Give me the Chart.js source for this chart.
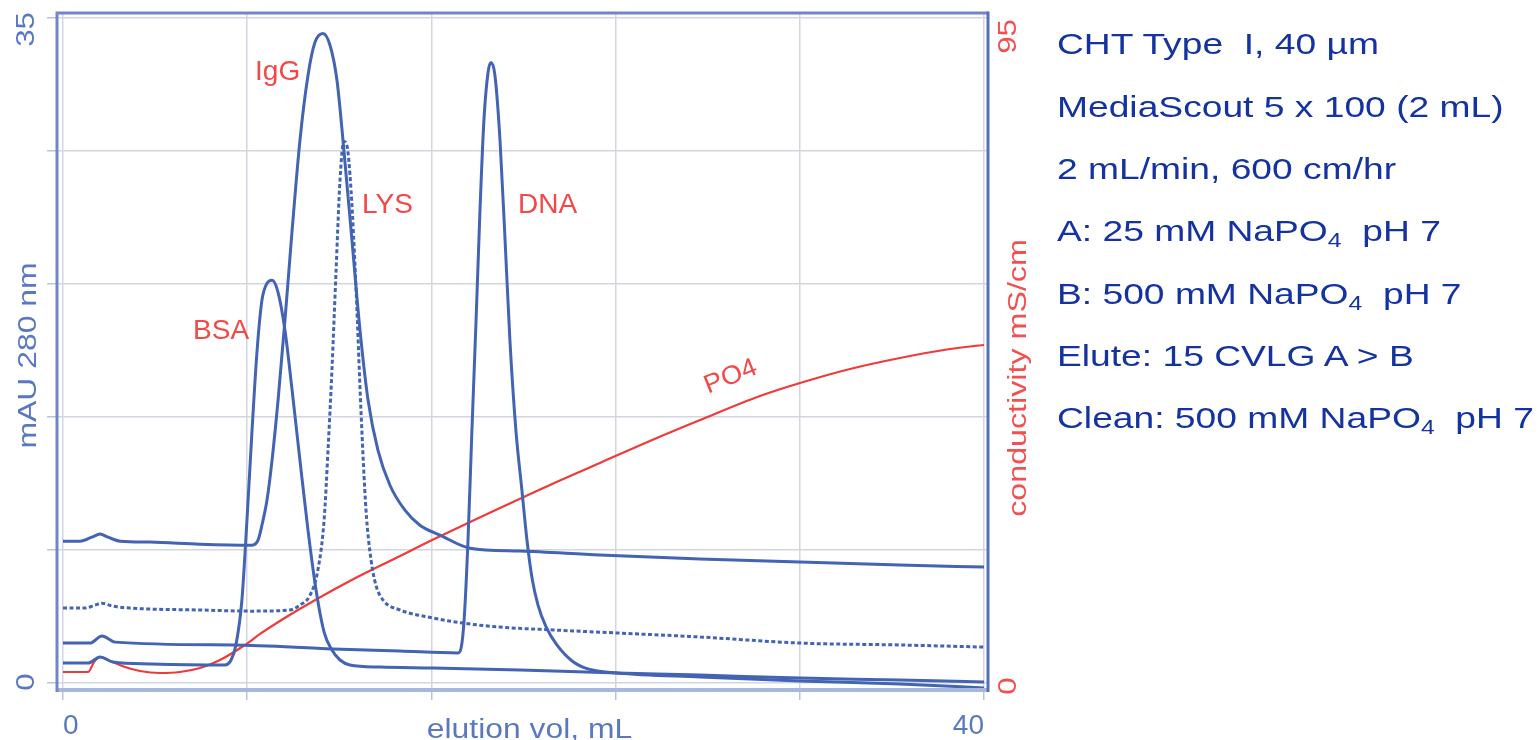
<!DOCTYPE html>
<html>
<head>
<meta charset="utf-8">
<script src="https://cdn.jsdelivr.net/npm/chart.js@4.4.1/dist/chart.umd.min.js"></script>
<style>
  html, body { margin: 0; padding: 0; background: #fff; overflow: hidden; }
  #wrap { position: relative; width: 1539px; height: 740px; }
  #chartBox { position: absolute; left: 0; top: 0; width: 1539px; height: 740px; }
  #notes {
    position: absolute; left: 1057px; top: 13.4px;
    font-family: "Liberation Sans", Arial, sans-serif; font-size: 30px;
    line-height: 62.33px; color: #1433a0; white-space: pre;
    transform: scaleX(1.24); transform-origin: left top;
  }
  #notes sub { font-size: 20px; vertical-align: -6px; line-height: 0; }
</style>
</head>
<body>
<div id="wrap">
  <div id="chartBox"><canvas id="c"></canvas></div>
  <div id="notes"><div>CHT Type  I, 40 µm</div><div>MediaScout 5 x 100 (2 mL)</div><div>2 mL/min, 600 cm/hr</div><div>A: 25 mM NaPO<sub>4</sub>  pH 7</div><div>B: 500 mM NaPO<sub>4</sub>  pH 7</div><div>Elute: 15 CVLG A &gt; B</div><div>Clean: 500 mM NaPO<sub>4</sub>  pH 7</div></div>
</div>
<script>
// ---------- data (elution volume mL, absorbance mAU 280 nm) ----------
const igX = [0, 0.74, 1.26, 1.61, 1.95, 2.48, 3.78, 5.95, 8.21, 8.47, 8.64, 8.86, 9.08, 9.34, 9.64, 9.95, 10.29, 10.64, 10.94, 11.29, 11.60, 11.90, 12.20, 12.55, 12.90, 13.25, 13.68, 14.20, 14.85, 15.50, 16.37, 17.68, 19.85, 23.32, 27.67, 32.01, 36.35, 40];
const igY = [7.46, 7.46, 7.67, 7.83, 7.67, 7.46, 7.41, 7.30, 7.25, 7.51, 8.30, 9.62, 11.72, 14.87, 19.08, 23.80, 28.53, 31.95, 33.68, 34.16, 33.53, 31.69, 28.01, 23.28, 18.55, 14.87, 12.24, 10.40, 9.09, 8.30, 7.78, 7.09, 6.94, 6.73, 6.52, 6.36, 6.20, 6.10];

const lysX = [0, 0.96, 1.39, 1.69, 2.13, 2.91, 5.95, 8.12, 9.86, 10.29, 10.73, 11.07, 11.34, 11.51, 11.68, 11.86, 12.03, 12.20, 12.33, 12.51, 12.73, 12.94, 13.16, 13.38, 13.59, 13.90, 14.64, 16.07, 17.37, 18.98, 21.28, 24.06, 27.67, 32.01, 36.35, 40];
const lysY = [3.94, 3.94, 4.10, 4.20, 4.05, 3.94, 3.84, 3.78, 3.84, 4.10, 4.62, 5.94, 8.57, 12.24, 16.45, 21.70, 26.43, 28.48, 28.27, 25.91, 20.65, 14.35, 9.09, 6.46, 5.15, 4.36, 3.84, 3.42, 3.15, 2.94, 2.79, 2.63, 2.42, 2.10, 2.00, 1.89];

const bsaX = [0, 1.09, 1.61, 2.17, 3.78, 6.51, 7.04, 7.30, 7.51, 7.77, 7.99, 8.21, 8.43, 8.64, 8.86, 9.08, 9.34, 9.64, 9.95, 10.29, 10.64, 10.99, 11.34, 11.68, 12.03, 12.46, 13.77, 16.07, 19.85, 24.06, 27.67, 32.01, 36.35, 40];
const bsaY = [1.05, 1.05, 1.37, 1.10, 1.00, 0.95, 0.95, 1.21, 2.00, 4.36, 8.57, 13.29, 17.50, 20.13, 21.02, 21.18, 20.55, 18.55, 15.40, 11.72, 8.04, 4.89, 2.68, 1.73, 1.21, 0.95, 0.84, 0.79, 0.68, 0.53, 0.42, 0.26, 0.16, 0.05];

const dnaX = [0, 1.17, 1.69, 2.26, 7.38, 11.73, 14.64, 17.16, 17.29, 17.42, 17.59, 17.76, 17.94, 18.11, 18.28, 18.46, 18.59, 18.76, 18.98, 19.20, 19.41, 19.67, 19.93, 20.15, 20.37, 20.63, 20.98, 21.45, 22.11, 22.80, 24.06, 27.67, 32.01, 36.35, 40];
const dnaY = [2.10, 2.10, 2.47, 2.15, 2.00, 1.79, 1.68, 1.58, 1.84, 3.31, 7.51, 13.29, 19.08, 24.86, 29.58, 32.11, 32.63, 31.95, 28.53, 23.28, 18.02, 13.29, 10.15, 7.52, 5.52, 4.10, 2.95, 2.00, 1.16, 0.74, 0.53, 0.32, 0.11, -0.05, -0.26];

// conductivity, mS/cm
const po4X = [0, 1.09, 1.35, 1.61, 2.04, 2.69, 3.34, 4.21, 5.08, 5.95, 6.82, 7.90, 8.56, 9.42, 10.73, 12.46, 14.64, 16.03, 17.68, 18.98, 21.15, 23.32, 25.49, 27.67, 30.27, 32.01, 34.18, 36.35, 38.52, 40];
const po4Y = [1.57, 1.57, 3.00, 3.71, 3.14, 2.28, 1.71, 1.43, 1.57, 2.14, 3.28, 5.42, 7.00, 8.85, 11.42, 14.56, 18.13, 20.41, 22.98, 24.98, 28.27, 31.41, 34.55, 37.54, 40.97, 42.83, 44.83, 46.40, 47.68, 48.25];

// axis ticks
const xTicks = [0, 8, 16, 24, 32, 40];
const xTickLabels = ['0', '', '', '', '', '40'];
const yTicks = [0, 7, 14, 21, 28, 35];
const yTickLabels = ['0', '', '', '', '', '35'];
const y1TickValues = [0, 95];
const y1TickLabels = ['0', '95'];

// peak labels (data coordinates)
const peakNames = ['BSA', 'IgG', 'LYS', 'DNA'];
const peakLabelX = [5.65, 8.34, 12.99, 19.76];
const peakLabelY = [18.08, 31.69, 24.70, 24.70];
const po4Label = 'PO4';
const po4LabelX = 29.0;
const po4LabelY = 43.7;

// ---------- styling ----------
const BLUE = '#4363b3';
const RED = '#f03a3a';
const LABEL_RED = '#f24848';
const AXIS_BLUE = '#5a78c2';
const GRID = '#d3d6e0';
const FONT = '"Liberation Sans", Arial, sans-serif';

const pts = (xs, ys) => xs.map((x, i) => ({ x: x, y: ys[i] }));

function lineDs(label, xs, ys, color, width, dash, axis) {
  return {
    label: label, data: pts(xs, ys), borderColor: color, borderWidth: width,
    borderDash: dash || [], pointRadius: 0, fill: false,
    cubicInterpolationMode: 'monotone', yAxisID: axis || 'y'
  };
}

const textPlugin = {
  id: 'textPlugin',
  afterDraw(chart) {
    const { ctx, chartArea: ca, scales } = chart;
    const xs = scales.x, ys = scales.y, y1 = scales.y1;
    ctx.save();
    // frame
    ctx.lineCap = 'butt';
    ctx.strokeStyle = '#a9b7dd'; ctx.lineWidth = 4;
    ctx.beginPath(); ctx.moveTo(ca.left, ca.bottom); ctx.lineTo(ca.right, ca.bottom); ctx.stroke();
    ctx.strokeStyle = '#6f87c7'; ctx.lineWidth = 3;
    ctx.beginPath(); ctx.moveTo(ca.left, ca.bottom + 2); ctx.lineTo(ca.left, ca.top); ctx.lineTo(ca.right, ca.top); ctx.stroke();
    ctx.strokeStyle = '#5470ba'; ctx.lineWidth = 3;
    ctx.beginPath(); ctx.moveTo(ca.right, ca.top - 1.5); ctx.lineTo(ca.right, ca.bottom + 2); ctx.stroke();

    function rtext(str, x, y, size, color, angle, sx) {
      ctx.save();
      ctx.translate(x, y); ctx.rotate(angle); ctx.scale(sx, 1);
      ctx.font = size + 'px ' + FONT; ctx.fillStyle = color;
      ctx.textAlign = 'center'; ctx.textBaseline = 'middle';
      ctx.fillText(str, 0, 0);
      ctx.restore();
    }
    const up = -Math.PI / 2;
    // left tick labels
    yTicks.forEach((v, i) => {
      if (!yTickLabels[i]) return;
      const off = v === 35 ? 12 : -1;
      rtext(yTickLabels[i], ca.left - 30, ys.getPixelForValue(v) + off, 26, AXIS_BLUE, up, 1.2);
    });
    // right tick labels
    y1TickValues.forEach((v, i) => {
      const off = v === 95 ? 19 : 3;
      rtext(y1TickLabels[i], ca.right + 21, y1.getPixelForValue(v) + off, 26, '#f25050', up, 1.2);
    });
    // axis titles
    rtext('mAU 280 nm', ca.left - 28, (ca.top + ca.bottom) / 2 + 4, 26, AXIS_BLUE, up, 1.226);
    rtext('conductivity mS/cm', ca.right + 31, 378, 26, '#f25050', up, 1.24);
    ctx.save();
    ctx.translate((ca.left + ca.right) / 2 + 7, 738); ctx.scale(1.18, 1);
    ctx.font = '27px ' + FONT; ctx.fillStyle = AXIS_BLUE;
    ctx.textAlign = 'center'; ctx.textBaseline = 'alphabetic';
    ctx.fillText('elution vol, mL', 0, 0);
    ctx.restore();
    // peak labels
    ctx.font = '28px ' + FONT; ctx.fillStyle = LABEL_RED;
    ctx.textAlign = 'left'; ctx.textBaseline = 'alphabetic';
    peakNames.forEach((n, i) => {
      ctx.fillText(n, xs.getPixelForValue(peakLabelX[i]), ys.getPixelForValue(peakLabelY[i]));
    });
    rtext(po4Label, xs.getPixelForValue(po4LabelX), y1.getPixelForValue(po4LabelY), 26, LABEL_RED, -22 * Math.PI / 180, 1.05);
    ctx.restore();
  }
};

new Chart(document.getElementById('c'), {
  type: 'line',
  data: {
    datasets: [
      lineDs('IgG', igX, igY, BLUE, 3),
      lineDs('LYS', lysX, lysY, BLUE, 3, [4, 2.5]),
      lineDs('BSA', bsaX, bsaY, BLUE, 3),
      lineDs('DNA', dnaX, dnaY, BLUE, 3),
      lineDs('PO4', po4X, po4Y, RED, 2.2, null, 'y1')
    ]
  },
  options: {
    responsive: true,
    maintainAspectRatio: false,
    animation: false,
    layout: { padding: { top: 13, left: 0, right: 0, bottom: 0 } },
    plugins: { legend: { display: false }, tooltip: { enabled: false }, title: { display: false } },
    scales: {
      x: {
        type: 'linear', min: -0.2606, max: 40.1737,
        afterBuildTicks: (s) => { s.ticks = xTicks.map(v => ({ value: v })); },
        afterFit: (s) => { s.height = 50; },
        grid: { color: GRID, lineWidth: 1.5, drawTicks: true, tickLength: 10, tickColor: '#b9c3de' },
        border: { display: false },
        ticks: {
          autoSkip: false, maxRotation: 0, align: 'inner', padding: 9,
          color: AXIS_BLUE, font: { family: FONT, size: 28 },
          callback: (v) => { const i = xTicks.indexOf(v); return i >= 0 ? xTickLabels[i] : ''; }
        }
      },
      y: {
        type: 'linear', position: 'left', min: -0.368, max: 35.237,
        afterBuildTicks: (s) => { s.ticks = yTicks.map(v => ({ value: v })); },
        afterFit: (s) => { s.width = 57; },
        grid: { color: GRID, lineWidth: 1.5, drawTicks: true, tickLength: 10, tickColor: '#b9c3de' },
        border: { display: false },
        ticks: { display: false }
      },
      y1: {
        type: 'linear', position: 'right', min: -0.999, max: 95.642,
        afterBuildTicks: (s) => { s.ticks = y1TickValues.map(v => ({ value: v })); },
        afterFit: (s) => { s.width = 551; },
        grid: { display: false, drawOnChartArea: false },
        border: { display: false },
        ticks: { display: false }
      }
    }
  },
  plugins: [textPlugin]
});
</script>
</body>
</html>
